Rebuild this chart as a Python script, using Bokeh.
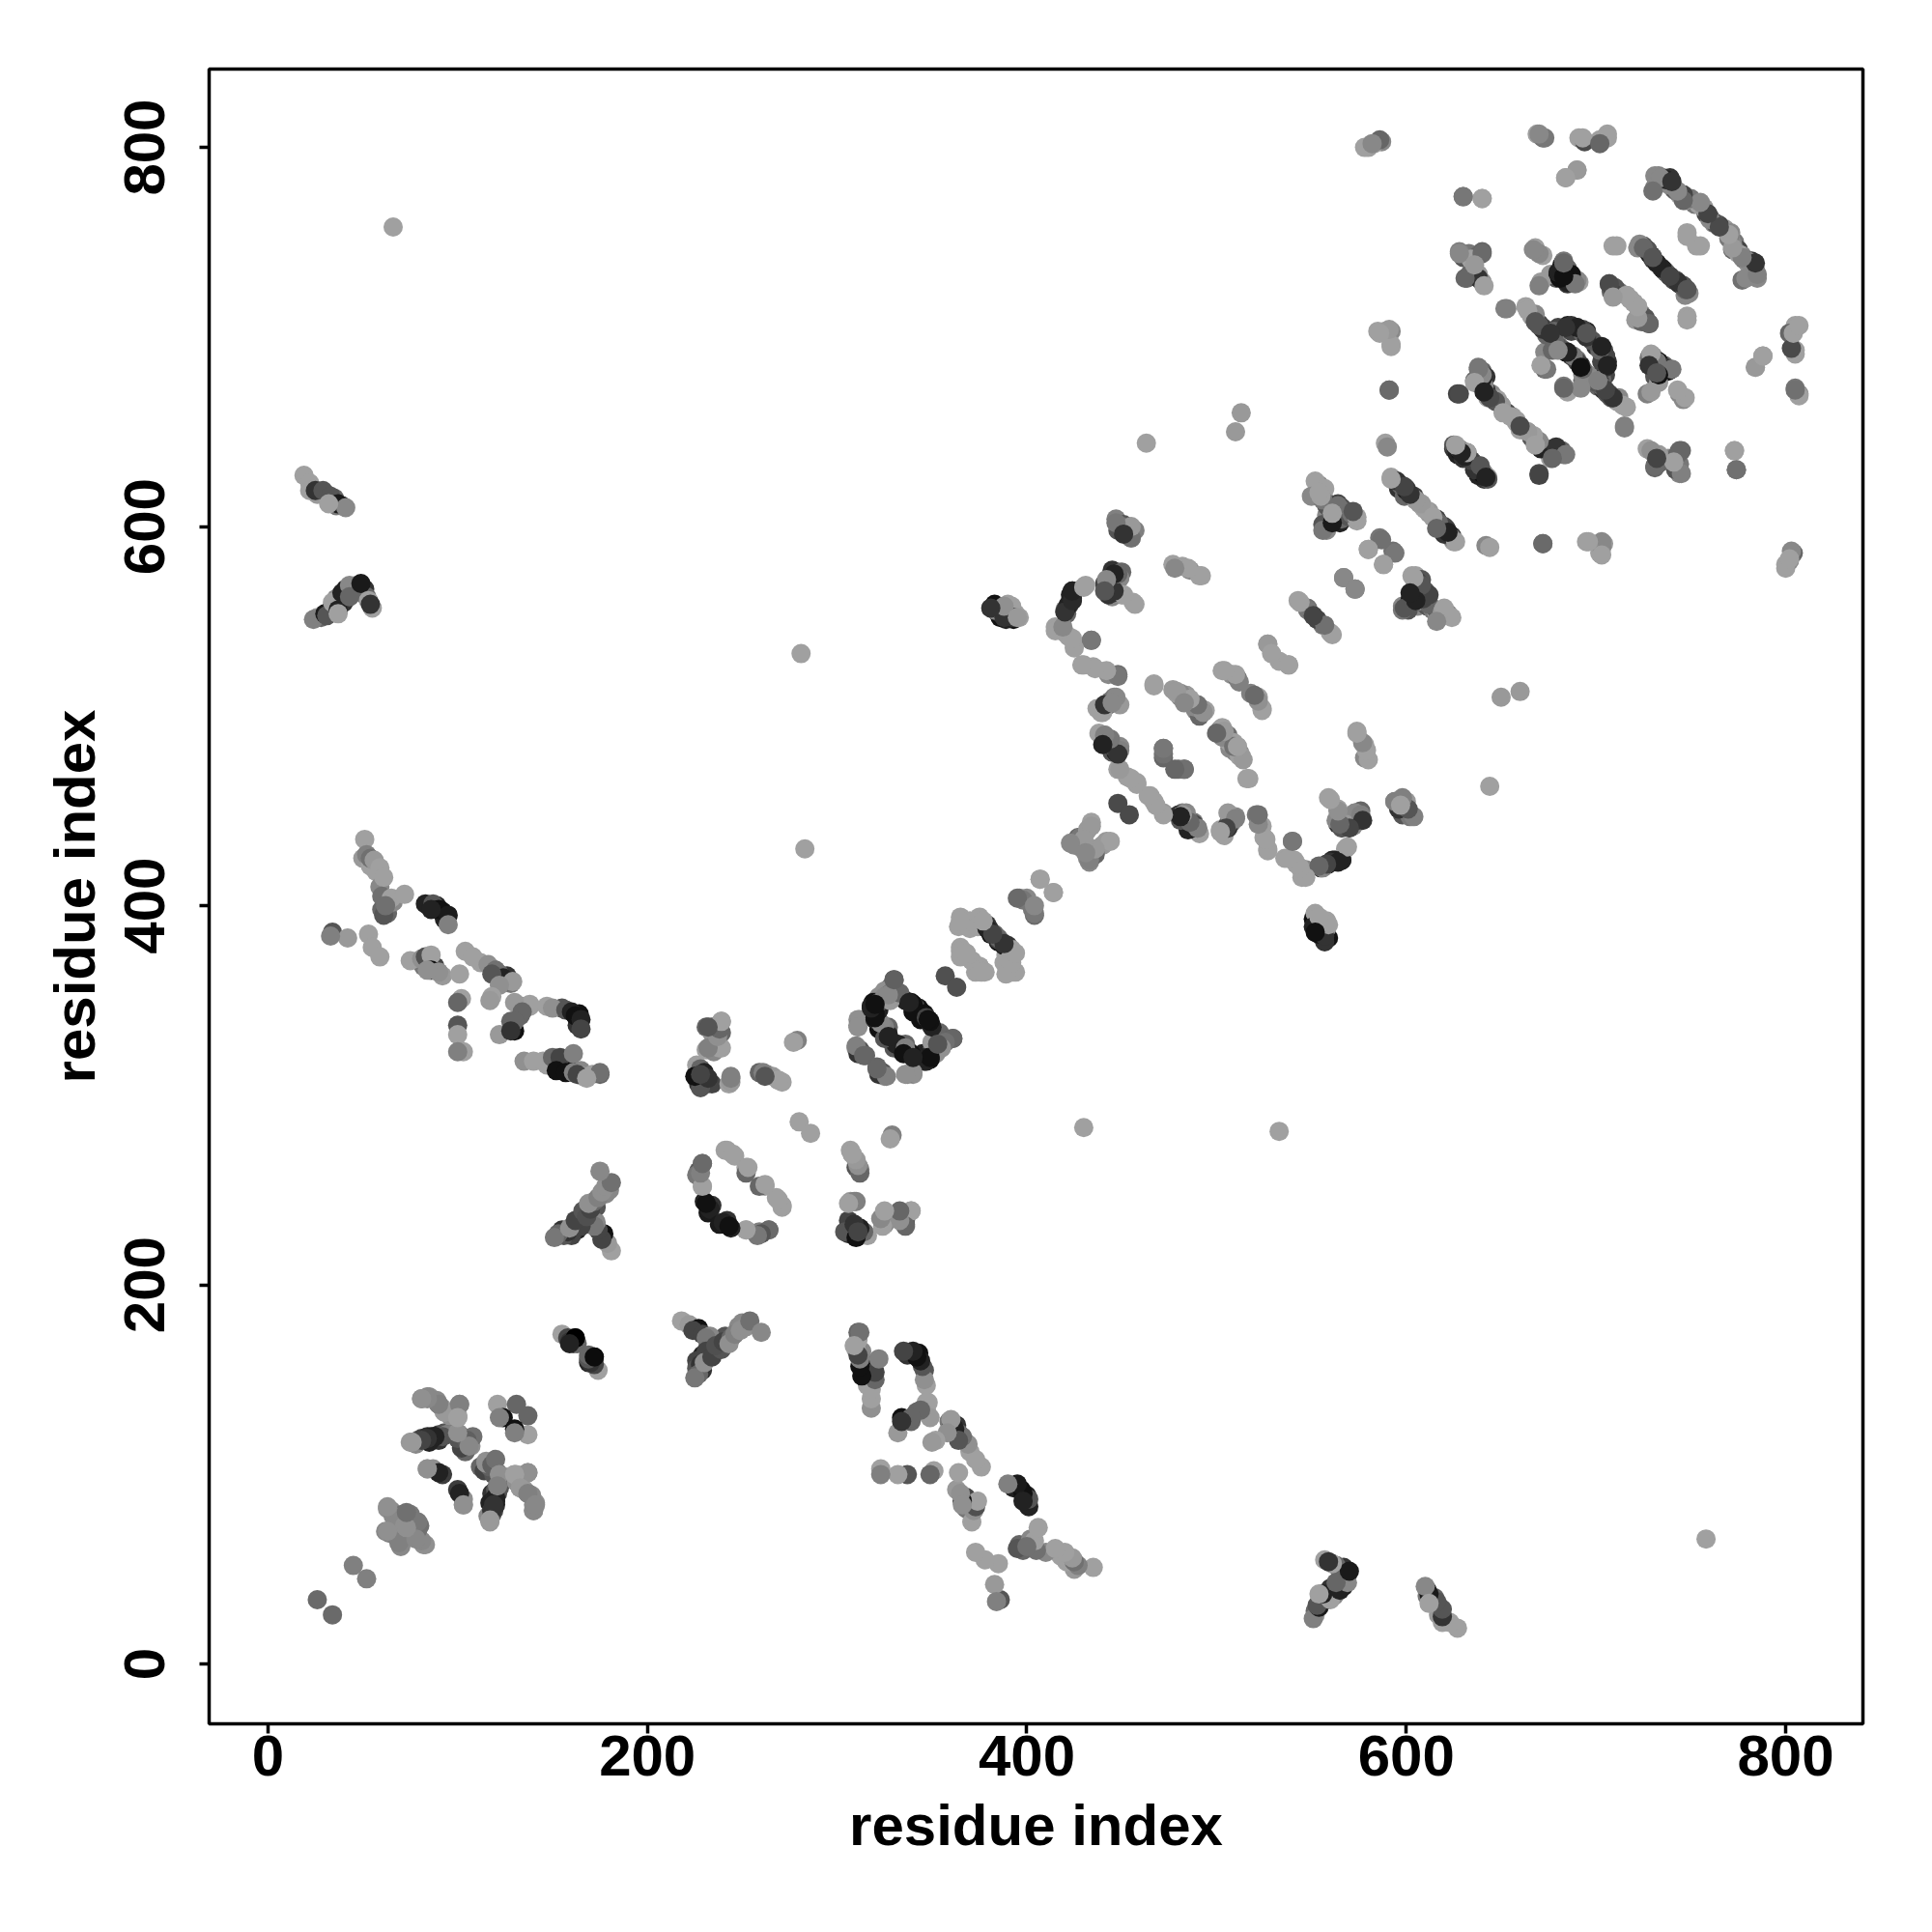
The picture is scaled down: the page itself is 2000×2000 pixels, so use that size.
from bokeh.plotting import figure
from bokeh.models import Range1d, FixedTicker
from bokeh.embed import file_html
from bokeh.resources import INLINE

# contact pairs: (residue i, residue j, gray level); the map is symmetric
under_far = [(26,552,0x99),(28,552,0x66),(33,556,0x33),(35,558,0x55),(36,562,0x88),(40,560,0x33),(41,567,0x1a),(45,565,0x55),
    (47,569,0x88),(48,566,0x22),(51,567,0x33),(52,563,0x66),(55,557,0xa0),(28,618,0x44),(31,617,0x55),(35,615,0x66),(39,611,0x22),
    (34,613,0x99),(36,611,0x77),(26,617,0x99),(385,554,0x11),(388,556,0x55),(391,553,0x22),(393,551,0x11),(396,552,0xa0),
    (553,390,0x22),(555,385,0x33),(559,383,0x11),(555,392,0x55),(558,392,0xa0),(552,393,0x33),(556,383,0x88),
    (444,572,0x44),(446,568,0x22),(447,572,0x55),(449,573,0x88),(443,568,0x99),(445,563,0x88),(424,562,0x22),(423,560,0x33),
    (424,566,0x22),(420,556,0x88)]
under_band = [(554,622,0x88),(556,616,0x55),(559,612,0x66),(562,609,0x44),(566,610,0x55),(568,606,0x33),(571,606,0x44),(555,619,0x99),
    (594,624,0x77),(596,620,0x33),(600,620,0x44),(602,617,0x66),(607,612,0x99),(609,610,0xa0),(612,608,0x99),(616,604,0x44),
    (619,600,0x22),(622,597,0x66),(624,595,0x33),(625,641,0x33),(627,638,0x22),(630,637,0x55),(628,640,0x11),(630,636,0x33),
    (635,634,0x44),(637,631,0x22),(641,628,0x88),(640,682,0x66),(642,679,0x33),(645,670,0x88),(648,667,0xa0),(650,664,0x99),
    (656,658,0xa0),(658,655,0xa0),(664,650,0x99),(666,647,0x55),(672,642,0x33),(674,641,0x88),(678,640,0x22),(680,640,0x88)]
under_top = [(735,784,0x55),(737,781,0x99),(740,780,0x88),(744,775,0xa0),(749,772,0x88),(752,770,0x77),(760,763,0x55),(762,760,0x88),
    (768,757,0x99),(773,750,0x77),(775,746,0x44),(778,741,0x55),(780,739,0x88),(783,737,0x22),(785,731,0x88),(727,746,0x55),
    (729,743,0x33),(734,737,0x66),(736,735,0x22),(741,730,0x44),(744,728,0x22),(746,727,0x55),(749,723,0x88),(747,722,0x88),
    (708,724,0x66),(709,726,0x55),(718,720,0xa0),(720,718,0xa0),(724,712,0x77),(726,710,0x55),(723,709,0x44)]
under_core = [(670,707,0x44),(674,703,0x66),(676,700,0x55),(680,696,0x88),(683,693,0x66),(687,690,0x44),(690,688,0x77),(695,680,0x55),
    (698,678,0x66),(701,674,0x66),(704,672,0x33),(706,670,0x55),(711,666,0xa0),(712,668,0x88),(687,703,0x44),(690,705,0x44),
    (693,702,0x66),(698,698,0x55),(700,695,0x33),(704,693,0x44),(706,687,0x33),(705,680,0x44),(703,678,0x66),(682,738,0x11),
    (684,736,0x33),(687,732,0x77),(679,731,0x55),(676,733,0x99),(729,685,0x22),(731,681,0x11),(734,680,0x22),(736,685,0x66),
    (730,690,0x88),(733,687,0x11),(630,742,0x55),(633,744,0x77),(636,740,0x88),(638,743,0x66),(634,734,0x66),(638,733,0x99)]
under_mid = [(481,510,0x88),(486,507,0xa0),(489,503,0x88),(494,503,0xa0),(479,512,0xa0),(504,491,0x99),(505,488,0x88),(511,484,0x99),
    (512,481,0x88),(565,445,0x33),(568,443,0x55),(570,447,0x33),(573,444,0x44),(576,450,0x66),(573,449,0x88),(564,443,0x33),
    (557,421,0x33),(559,422,0x22),(563,424,0x22),(343,346,0x11),(344,340,0x11),(330,325,0x55),(338,323,0x88),(345,322,0x22),
    (349,322,0x55),(352,325,0x88),(356,330,0x66),(350,328,0x99),(343,320,0x11),(341,320,0x11),(346,318,0x22)]
under_low = [(118,90,0x33),(117,85,0x22),(120,92,0x55),(116,78,0x88),(112,104,0x66),(114,102,0x44),(119,100,0x55),(167,232,0x44),
    (171,237,0x33),(173,241,0x55),(163,229,0x22),(160,226,0x44),(156,226,0x55),(178,248,0x88),(180,250,0x88),(227,306,0x33),
    (229,308,0x11),(231,306,0x22),(234,306,0x44),(228,304,0x55),(226,312,0x88),(155,316,0x22),(150,316,0x88),(158,315,0x11),
    (152,318,0x66),(165,313,0x88),(147,316,0xa0),(155,346,0x55),(163,337,0x33),(164,343,0x11),(126,363,0x33),(122,364,0x66),
    (118,367,0x88),(112,370,0xa0),(128,359,0x77),(125,360,0x55),(85,400,0x33),(89,400,0x22),(92,397,0x11),(93,393,0x22),
    (50,425,0x99),(54,421,0xa0),(57,418,0xa0),(59,410,0x88),(60,398,0x66),(63,396,0x66),(66,402,0x88),(88,368,0x44),(92,363,0x99),(82,368,0x77)]
under_next = [(385,381,0x11),(390,379,0x33),(383,385,0x66),(372,391,0xa0),(368,375,0xa0),(371,371,0xa0),(373,365,0xa0),(388,370,0xa0),
    (392,365,0xa0),(389,374,0xa0),(427,436,0x66),(436,428,0x77),(440,432,0x99),(432,425,0x88),(443,488,0x44),(446,484,0x33),
    (449,484,0x88),(445,481,0x55),(443,506,0x66),(445,508,0x77),(449,506,0x99),(484,445,0x44),(486,443,0x33),(491,438,0xa0),
    (504,437,0xa0),(508,444,0x77),(598,448,0x55),(597,453,0x88),(600,450,0x77),(604,566,0x66),(606,558,0x88),(609,560,0x22),
    (611,558,0x55),(614,556,0x77),(616,555,0xa0),(601,556,0x55),(598,558,0x88),(605,570,0x55)]
near_start = [(26,34,0x6a),(45,52,0x80),(63,82,0x90),(65,81,0x88),(62,70,0x88),(64,69,0x80),(71,79,0x70),(75,79,0x78),
    (66,78,0x88),(70,63,0x90),(72,73,0x90),(80,73,0x70),(83,63,0x90)]
fold_a = [(75,117,0x99),(77,117,0x88),(79,118,0x66),(81,119,0x44),(84,120,0x33),(86,120,0x22),(88,120,0x33),(90,121,0x44),
    (93,122,0x55),(96,122,0x70),(101,121,0x55),(104,117,0x60),(107,115,0x90),(81,140,0x88),(85,141,0x90),(89,139,0x88),
    (92,135,0x99),(96,131,0x90),(100,131,0xa0),(101,137,0x90),(106,115,0x90),(105,118,0x60),(108,120,0x70),(100,122,0x90),
    (100,130,0xa0),(93,133,0x99),(90,137,0x80),(84,141,0x88),(81,118,0x33),(88,120,0x22),(84,119,0x33),(94,121,0x80),
    (84,103,0xa0),(87,103,0x90),(92,100,0x3c),(90,101,0x22),(84,103,0x90),(121,137,0xa0),(131,137,0x66),(124,130,0x11),
    (122,130,0x80),(76,117,0x99),(118,105,0x60),(115,106,0x88),(122,100,0x90),(120,88,0x22),(119,84,0x33),(118,81,0x44),
    (117,76,0x99),(133,93,0x99),(137,90,0x80),(140,84,0x88),(140,81,0x90),(137,101,0x80),(130,100,0xa0)]
fold_b = [(155,174,0xa0),(158,172,0x44),(159,170,0x33),(161,169,0x55),(163,169,0x66),(162,172,0x0c),(172,162,0x00),(169,159,0x22)]
branch_y = [(181,218,0xa0),(179,222,0x99),(177,227,0x11),(176,224,0x44),(174,229,0x44),(173,233,0x88),(172,231,0x77),
    (165,231,0x44),(158,228,0x33),(155,229,0x33),(153,227,0x66),(151,225,0x77),(159,230,0x90),(162,234,0x44),(166,239,0x55),
    (168,236,0x50),(170,240,0x44),(172,244,0x66),(169,243,0x90),(174,246,0x80),(176,249,0x90),(178,252,0x90),(181,254,0x70),(175,260,0x88)]
ring_c = [(229,264,0x6a),(227,260,0x55),(226,258,0x77),(229,252,0xa0),(230,244,0x22),(233,240,0x44),(232,238,0x1a),(234,242,0x33),
    (233,240,0x22),(231,243,0x11),(241,271,0xa0),(246,268,0xa0),(252,262,0xa0),(252,259,0x66),(253,262,0xa0),(242,271,0xa0),
    (252,229,0xa0),(259,228,0x80),(264,229,0x6a),(245,269,0xa0),(280,286,0xa0)]
arm_d = [(239,339,0xa0),(231,336,0x66),(234,333,0x90),(239,333,0x66),(231,324,0xa0),(235,323,0x88),(239,325,0xa0),(226,316,0xa0),
    (228,314,0x66),(225,310,0x11),(230,312,0x22),(232,309,0x33),(228,311,0x44),(244,310,0x80),(243,306,0xa0),(259,312,0x66),
    (263,311,0x90),(266,310,0x99),(269,308,0xa0),(279,329,0x80),(277,328,0xa0),(307,271,0xa0),(308,269,0xa0),(312,261,0x80),
    (310,262,0x55),(307,244,0x99),(309,244,0x80),(325,238,0xa0),(325,232,0x80),(336,234,0x66),(331,237,0x90),(335,238,0x66),
    (339,239,0xa0),(336,232,0x55)]
ring_e = [(330,361,0x66),(328,357,0x70),(325,355,0x90),(322,352,0x90),(319,349,0x11),(318,347,0x22),(320,344,0x22),(321,341,0x22),
    (311,340,0x90),(311,337,0x80),(325,335,0x11),(327,336,0x66),(327,332,0x22),(336,350,0x22),(339,349,0x11),(341,347,0x44),
    (322,339,0x11),(325,336,0x80),(320,349,0x11),(327,353,0x55),(310,325,0x90),(312,324,0x55),(315,321,0x66),(311,322,0x33),
    (310,326,0x80),(314,321,0x66),(312,340,0x90),(311,336,0x90),(322,335,0x11),(320,340,0x22),(331,327,0x22),(340,348,0x11),
    (354,333,0x66),(353,327,0x88),(348,320,0x11),(357,363,0x50),(366,375,0xa0),(365,378,0xa0),(361,330,0x60),(349,338,0x22)]
arm_f = [(135,318,0x90),(140,318,0xa0),(145,318,0xa0),(150,320,0x66),(154,320,0x44),(161,322,0x80),(152,313,0x11),(157,312,0x11),
    (161,312,0x80),(166,310,0xa0),(171,311,0xa0),(175,311,0x66),(147,347,0xa0),(150,346,0x90),(157,345,0x55),(160,344,0x22),
    (162,342,0x11),(165,340,0x22),(165,335,0x44),(138,347,0xa0),(134,347,0x90),(133,342,0x66),(130,334,0x11),(128,339,0x66),
    (122,332,0x99),(175,312,0x70),(163,311,0x44),(168,309,0xa0)]
arm_g = [(51,435,0xa0),(52,427,0x80),(54,425,0x70),(56,424,0x99),(59,420,0xa0),(61,415,0xa0),(60,405,0x70),(65,404,0xa0),
    (72,406,0xa0),(61,395,0x55),(62,400,0x70),(83,401,0x22),(87,401,0x55),(90,398,0x11),(95,395,0x1a),(95,390,0x80),
    (86,398,0x22),(34,386,0x55),(42,383,0x99),(33,384,0x80),(53,385,0xa0),(55,378,0xa0),(59,373,0xa0),(75,371,0xa0),
    (81,372,0x90),(83,373,0x50),(86,374,0xa0),(86,366,0x11),(90,365,0x90),(84,366,0x90),(101,364,0xa0),(104,376,0xa0),
    (108,373,0xa0),(116,369,0x90),(120,366,0x70),(124,362,0x22),(129,360,0x99),(118,364,0x55),(122,358,0x90),(102,351,0xa0),
    (100,349,0x66),(118,352,0xa0),(117,350,0x99),(138,348,0xa0),(130,349,0x99),(134,344,0x66),(130,339,0x66),(128,334,0x33),
    (100,337,0x55),(100,332,0xa0),(103,323,0xa0),(100,323,0x80)]
far_h = [(19,627,0xa0),(22,623,0xa0),(22,619,0xa0),(25,619,0x33),(29,619,0x55),(33,616,0x55),(37,612,0x1a),(41,610,0x88),(32,612,0xa0),
    (24,551,0x80),(30,554,0x1a),(31,553,0x55),(34,560,0xa0),(37,556,0x22),(39,565,0x22),(43,569,0x88),(43,563,0x66),(49,570,0x1a),
    (53,561,0xa0),(54,559,0x33),(37,554,0xa0),(66,758,0xa0),(281,533,0xa0),(283,430,0xa0),(463,644,0xa0),(510,650,0x99),(513,660,0x99)]
mid_i = [(365,394,0xa0),(364,389,0xa0),(370,392,0xa0),(375,394,0xa0),(380,388,0x33),(388,379,0x22),(385,382,0x44),(392,377,0xa0),
    (365,376,0xa0),(375,368,0xa0),(407,414,0xa0),(414,407,0xa0),(396,404,0x77),(403,398,0x77),(404,395,0x6a),(400,404,0x88),
    (434,444,0xa0),(424,433,0x80),(430,436,0x99),(442,434,0x99),(435,430,0x99),(433,423,0x88),(428,431,0x88)]
mid_j = [(447,604,0x80),(451,601,0x55),(457,598,0x80),(455,594,0x80),(453,597,0xa0),(448,576,0x80),(445,577,0x33),(441,570,0x44),
    (443,565,0x66),(431,569,0xa0),(450,564,0x90),(456,560,0xa0),(423,564,0x22),(422,558,0x44),(421,554,0x66),(477,580,0xa0),
    (482,579,0xa0),(486,577,0x88),(491,574,0xa0),(384,557,0x33),(390,559,0xa0),(389,551,0x22),(394,554,0xa0),(386,552,0x11),
    (415,547,0xa0),(420,544,0xa0),(422,542,0xa0),(425,538,0xa0),(434,540,0x77),(430,527,0xa0),(435,526,0xa0),(443,522,0x88),
    (448,522,0x70),(446,510,0x80),(441,505,0x44),(439,502,0xa0)]
mid_k = [(441,490,0x80),(444,486,0x66),(448,482,0x99),(447,481,0x22),(472,483,0x70),(472,478,0x66),(480,472,0x70),(483,472,0x77),
    (448,472,0xa0),(453,468,0xa0),(458,464,0xa0),(465,458,0xa0),(467,455,0xa0),(472,449,0x99),(448,454,0x4a),(482,449,0x80),
    (480,448,0x33),(488,444,0x77),(490,441,0x80),(485,440,0x22),(502,440,0xa0),(506,441,0x33),(510,447,0x88),(507,445,0x88),
    (521,448,0x77),(524,442,0xa0),(525,436,0xa0),(527,429,0xa0),(540,434,0x77),(536,425,0xa0),(541,424,0xa0),(545,415,0xa0),
    (547,419,0x88),(555,420,0x33),(561,424,0x2a),(566,424,0x22),(568,430,0xa0),(559,457,0xa0),(564,451,0xa0),(566,446,0x33),
    (575,448,0x66),(575,446,0x22),(572,442,0x88),(566,441,0x55),(594,455,0x70),(600,455,0x99),(602,447,0x77),(596,451,0x33),
    (574,492,0xa0),(578,485,0xa0),(578,478,0x88),(552,388,0x33),(558,388,0x90),(557,381,0x33),(552,395,0x99)]
mid_l = [(467,517,0xa0),(477,514,0x99),(484,509,0x70),(492,504,0x99),(491,500,0x66),(484,511,0xa0),(503,524,0xa0),(508,522,0x90),
    (511,520,0x6a),(518,512,0x80),(522,510,0xa0),(524,504,0xa0),(502,493,0x90),(506,490,0x70),(509,486,0xa0),(513,479,0x99),
    (516,467,0xa0),(507,483,0x88),(527,538,0xa0),(538,527,0x99),(533,529,0xa0),(543,561,0xa0),(548,557,0x70),(556,548,0x77),
    (560,544,0xa0),(553,551,0x44),(567,573,0x99),(573,567,0x88),(586,594,0x77),(580,588,0xa0),(593,587,0x70),(588,580,0xa0),
    (603,574,0xa0),(607,571,0x70),(598,556,0x77),(602,561,0x1a),(611,564,0x70),(618,554,0xa0),(607,561,0xa0)]
top_m = [(580,800,0xa0),(587,803,0x88),(583,802,0xa0),(669,807,0xa0),(672,805,0x70),(691,805,0xa0),(694,803,0x4a),(702,804,0xa0),
    (706,807,0xa0),(684,784,0x99),(690,788,0xa0),(630,774,0x70),(640,773,0xa0),(731,779,0x88),(733,785,0x80),(739,784,0x33),
    (742,777,0x80),(747,772,0x99),(754,770,0xa0),(758,765,0x4a),(765,759,0x44),(771,755,0x88),(772,746,0x66),(777,743,0x88),
    (784,734,0x88),(782,740,0x33),(777,730,0x70),(748,755,0xa0),(753,748,0xa0),(628,745,0x80),(640,745,0x66),(632,731,0x6a),
    (640,729,0x90),(634,741,0xa0),(636,732,0x44),(668,747,0xa0),(672,743,0xa0),(683,740,0x77),(680,733,0x11),(691,729,0xa0),
    (671,729,0x99),(685,728,0x33),(681,732,0x55),(709,748,0xa0),(725,748,0x55),(732,739,0x44),(739,732,0x22),(747,725,0x66),(742,730,0x55)]
top_n = [(707,728,0x66),(710,722,0x99),(716,722,0xa0),(722,716,0xa0),(728,707,0x4a),(721,709,0x99),(748,711,0xa0),(652,715,0x80),
    (663,716,0xa0),(668,709,0x33),(672,705,0x44),(677,701,0x80),(685,706,0x22),(695,703,0x22),(705,690,0x22),(702,695,0x55),
    (684,692,0x11),(692,685,0x22),(673,692,0x88),(673,683,0x66),(705,684,0x33),(683,674,0x77),(685,671,0xa0),(693,677,0x66),
    (702,676,0x33),(714,664,0xa0),(708,668,0x55),(715,653,0x80),(693,680,0x88),(728,689,0x77),(732,683,0x11),(739,683,0x66),
    (727,670,0x80),(744,670,0x88),(746,667,0x88),(805,706,0xa0),(805,693,0xa0),(802,702,0x66),(788,690,0x99),(784,684,0xa0),
    (805,673,0x77),(807,670,0x88),(589,703,0x88),(592,703,0x88),(585,703,0xa0),(592,696,0xa0),(591,672,0x6a)]
band_o = [(638,684,0x77),(627,670,0x44),(636,677,0x66),(643,668,0xa0),(653,660,0x4a),(660,651,0xa0),(668,644,0x4a),(683,638,0x77),
    (676,636,0xa0),(670,628,0x4a),(671,641,0x22),(589,644,0xa0),(625,643,0x55),(632,639,0x55),(626,642,0x22),(639,632,0xa0),
    (639,629,0x22),(643,626,0xa0),(731,638,0x33),(731,631,0x66),(744,640,0x6a),(744,628,0x88),(727,641,0xa0),(738,636,0x99),
    (773,640,0xa0),(774,630,0x77),(552,624,0xa0),(557,620,0xa0),(564,612,0x44),(569,608,0x55),(573,604,0xa0),(557,599,0x55),
    (561,605,0x22),(550,616,0x88),(565,602,0x22),(592,626,0xa0),(597,622,0x22),(605,614,0xa0),(614,605,0x99),(617,602,0x33),
    (621,599,0x44),(625,592,0xa0),(599,616,0x66),(642,590,0x88),(672,591,0x6a),(695,592,0xa0),(704,591,0x99),(702,586,0xa0),
    (804,586,0x66),(800,578,0xa0),(802,582,0x88),(567,573,0x88),(605,574,0xa0),(608,572,0x55)]

regions = [under_far, under_band, under_top, under_core, under_mid, under_low, under_next,
           near_start, fold_a, fold_b, branch_y, ring_c, arm_d, ring_e, arm_f, arm_g, far_h,
           mid_i, mid_j, mid_k, mid_l, top_m, top_n, band_o]
contacts = [c for r in regions for c in r]
xs = [c[0] for c in contacts] + [c[1] for c in contacts]
ys = [c[1] for c in contacts] + [c[0] for c in contacts]
colors = ["#%02x%02x%02x" % (c[2], c[2], c[2]) for c in contacts] * 2

tick_values = [0, 200, 400, 600, 800]
axis_title = "residue index"

p = figure(width=1988, height=1988, frame_width=1712, frame_height=1713,
           x_range=Range1d(-31, 840.7), y_range=Range1d(-31.5, 841.3),
           output_backend="svg", toolbar_location=None,
           min_border_left=216, min_border_right=60, min_border_top=71, min_border_bottom=204)
p.scatter(xs, ys, size=20, fill_color=colors, line_color=None)

p.grid.visible = False
p.outline_line_color = "black"
p.outline_line_width = 3.5
p.background_fill_color = "white"
for ax in (p.xaxis[0], p.yaxis[0]):
    ax.ticker = FixedTicker(ticks=tick_values)
    ax.axis_line_color = None
    ax.major_tick_line_color = "black"
    ax.major_tick_line_width = 3.5
    ax.major_tick_in = 0
    ax.major_tick_out = 10
    ax.minor_tick_line_color = None
    ax.major_label_text_font = "Liberation Sans"
    ax.major_label_text_font_style = "bold"
    ax.major_label_text_font_size = "60px"
    ax.major_label_text_color = "black"
    ax.axis_label = axis_title
    ax.axis_label_text_font = "Liberation Sans"
    ax.axis_label_text_font_style = "bold"
    ax.axis_label_text_font_size = "60px"
    ax.axis_label_text_color = "black"
p.yaxis[0].major_label_orientation = "vertical"
p.xaxis[0].major_label_standoff = 2
p.yaxis[0].major_label_standoff = 36
p.xaxis[0].axis_label_standoff = 15
p.yaxis[0].axis_label_standoff = 16

open("out.html", "w").write(file_html(p, INLINE))
